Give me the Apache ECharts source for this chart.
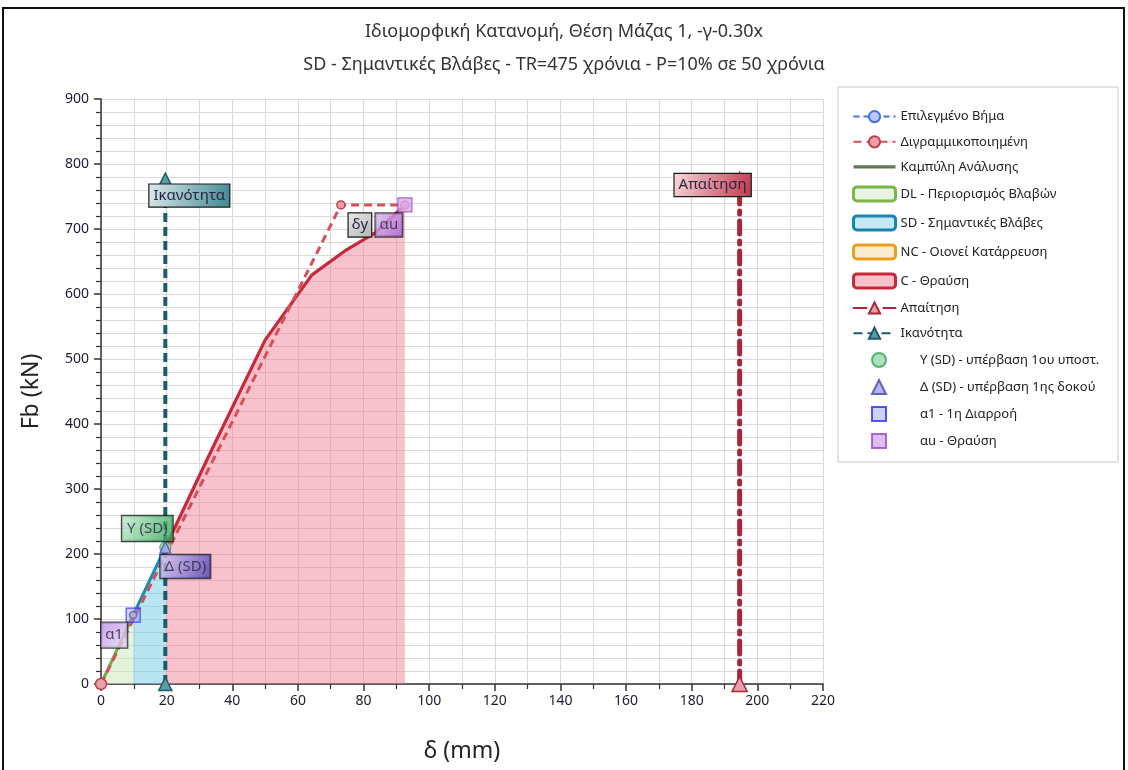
<!DOCTYPE html>
<html><head><meta charset="utf-8">
<script src="https://cdn.jsdelivr.net/npm/echarts@6/dist/echarts.min.js"></script>
<style>html,body{margin:0;padding:0;background:#fff}#c{width:1128px;height:770px}</style>
</head><body><div id="c"></div>
<script>
// ---------- data ----------
const titleLine1 = 'Ιδιομορφική Κατανομή, Θέση Μάζας 1, -γ-0.30x';
const titleLine2 = 'SD - Σημαντικές Βλάβες - TR=475 χρόνια - P=10% σε 50 χρόνια';
const xName = 'δ (mm)';
const yName = 'Fb (kN)';
const curveDL = [[0,0],[9.8,106]];
const curveSD = [[9.8,106],[19.6,210]];
const curveC  = [[19.6,210],[33.7,360],[50,529],[64.2,629],[74.8,668],[83.5,694],[92.6,737]];
const bilinear = [[0,0],[73.1,737],[92.6,737]];
const capacity = [[19.6,0],[19.6,776]];
const demand   = [[194.6,0],[194.6,780]];
const pointY = [[19.6,210]];
const pointDelta = [[19.6,210]];
const pointA1 = [[9.8,106]];
const pointAu = [[92.6,737]];
const stepPoints = [[9.8,106],[19.6,210]];
const names = ['Επιλεγμένο Βήμα','Διγραμμικοποιημένη','Καμπύλη Ανάλυσης','DL - Περιορισμός Βλαβών','SD - Σημαντικές Βλάβες','NC - Οιονεί Κατάρρευση','C - Θραύση','Απαίτηση','Ικανότητα'];
const pointNames = ['Y (SD) - υπέρβαση 1ου υποστ.','Δ (SD) - υπέρβαση 1ης δοκού','α1 - 1η Διαρροή','αu - Θραύση'];
const boxTexts = {cap:'Ικανότητα', dem:'Απαίτηση', y:'Y (SD)', d:'Δ (SD)', a1:'α1', dy:'δy', au:'αu'};

// ---------- style ----------
const F = '"Noto Sans", "DejaVu Sans", sans-serif';
function grad(c1,c2){return new echarts.graphic.LinearGradient(0,0,1,1,[{offset:0,color:c1},{offset:1,color:c2}]);}
function boxLabel(text,c1,c2,dx,dy,pad){
  return {show:true, position:'inside', offset:[dx,dy], formatter:text, fontSize:15, fontFamily:F,
    color:'#262640', padding:pad||[4,4,3,4], borderColor:'#1a1a1a', borderWidth:1.2, backgroundColor:grad(c1,c2)};
}

const chart = echarts.init(document.getElementById('c'), null, {renderer:'canvas'});
const option = {
  animation:false,
  backgroundColor:'#fff',
  textStyle:{fontFamily:F},
  title:{text:titleLine1+'\n'+titleLine2, left:'center', top:10,
    textStyle:{fontFamily:F, fontSize:18, fontWeight:'normal', color:'#333', lineHeight:33}},
  graphic:[
    {type:'rect', shape:{x:3,y:8,width:1121,height:790}, style:{fill:'none', stroke:'#111', lineWidth:2}, z:-10, silent:true},
    {type:'rect', shape:{x:838,y:87,width:280,height:375}, style:{fill:'#fff', stroke:'#c8c8c8', lineWidth:1}, z:-5, silent:true}
  ],
  grid:{left:101, right:305, top:99, bottom:86, containLabel:false},
  xAxis:{type:'value', min:0, max:220, interval:20, name:xName, nameLocation:'middle', nameGap:56,
    nameTextStyle:{fontSize:23, color:'#222', fontFamily:F},
    axisLine:{onZero:false, lineStyle:{color:'#333', width:1.5}},
    axisTick:{show:true, length:7, lineStyle:{color:'#333', width:1.5}},
    minorTick:{show:true, splitNumber:2, length:5, lineStyle:{color:'#333', width:1.2}},
    axisLabel:{fontSize:14, color:'#1c1c30', margin:10, fontFamily:F},
    splitLine:{show:true, lineStyle:{color:'#d9d9d9', width:1}},
    minorSplitLine:{show:true, lineStyle:{color:'#d9d9d9', width:1}}},
  yAxis:{type:'value', min:0, max:900, interval:100, name:yName, nameLocation:'middle', nameGap:58,
    nameTextStyle:{fontSize:23, color:'#222', fontFamily:F},
    axisLine:{show:true, onZero:false, lineStyle:{color:'#333', width:1.5}},
    axisTick:{show:true, length:7, lineStyle:{color:'#333', width:1.5}},
    minorTick:{show:true, splitNumber:5, length:5, lineStyle:{color:'#333', width:1.2}},
    axisLabel:{fontSize:14, color:'#1c1c30', margin:12, fontFamily:F},
    splitLine:{show:true, lineStyle:{color:'#d9d9d9', width:1}},
    minorSplitLine:{show:true, lineStyle:{color:'#d9d9d9', width:1}}},
  legend:[
    {orient:'vertical', left:847, top:105, itemWidth:42, itemHeight:14, itemGap:12,
     textStyle:{fontSize:13, color:'#222', fontFamily:F}, selectedMode:false,
     data:[
      {name:names[0]},
      {name:names[1]},
      {name:names[2], icon:'path://M0,0 L40,0 L40,3 L0,3 Z'},
      {name:names[3], icon:'roundRect', itemStyle:{color:'#e8f3e2', borderColor:'#7ab648', borderWidth:3}},
      {name:names[4], icon:'roundRect', itemStyle:{color:'#c4e8f4', borderColor:'#1a86ab', borderWidth:3}},
      {name:names[5], icon:'roundRect', itemStyle:{color:'#fbebcf', borderColor:'#e7a023', borderWidth:3}},
      {name:names[6], icon:'roundRect', itemStyle:{color:'#f6c3cb', borderColor:'#c8283c', borderWidth:3}},
      {name:names[7]},
      {name:names[8]}
     ]},
    {orient:'vertical', left:866, top:347, itemWidth:14, itemHeight:14, itemGap:11,
     textStyle:{fontSize:13, color:'#222', fontFamily:F, padding:[0,0,0,29]}, selectedMode:false,
     data:pointNames.map(n=>({name:n}))}
  ],
  series:[
    {name:names[3], type:'line', data:curveDL, symbol:'none', z:3,
     lineStyle:{color:'#6fb24a', width:3}, itemStyle:{color:'#6fb24a'},
     areaStyle:{color:'rgba(205,232,190,0.75)', origin:0}},
    {name:names[4], type:'line', data:curveSD, symbol:'none', z:3,
     lineStyle:{color:'#1b8cb3', width:3}, itemStyle:{color:'#1b8cb3'},
     areaStyle:{color:'rgba(120,205,230,0.75)', origin:0}},
    {name:names[5], type:'line', data:[], symbol:'none', z:3,
     lineStyle:{color:'#e7a023', width:3}, itemStyle:{color:'#e7a023'}},
    {name:names[6], type:'line', data:curveC, symbol:'none', z:3,
     lineStyle:{color:'#c8283c', width:3.2}, itemStyle:{color:'#c8283c'},
     areaStyle:{color:'rgba(238,118,138,0.64)', origin:0}},
    {name:names[2], type:'line', data:[], symbol:'none', lineStyle:{color:'#5e7a50', width:3}, itemStyle:{color:'#5e7a50'}},
    {name:names[0], type:'line', data:[], symbol:'circle', symbolSize:9,
     lineStyle:{color:'#4a6fe0', width:2.5, type:[6,4]}, itemStyle:{color:'#b8c8f8', borderColor:'#4a6fe0', borderWidth:1.5}},
    {name:names[8], type:'line', z:4, symbol:'triangle', symbolSize:13,
     data:capacity.map((p,i)=> i===capacity.length-1 ? {value:p, label:boxLabel(boxTexts.cap,'#dfecee','#3e8692',24,16)} : {value:p}),
     lineStyle:{color:'#1c5b69', width:4, type:[9,5]},
     itemStyle:{color:'#5c9aa4', borderColor:'#1c5b69', borderWidth:1.5}},
    {name:names[7], type:'line', z:4, symbol:'triangle', symbolSize:15,
     data:demand.map((p,i)=> i===demand.length-1 ? {value:p, symbolSize:9, label:boxLabel(boxTexts.dem,'#f8dade','#c23549',-27,8)} : {value:p}),
     lineStyle:{color:'#a82638', width:5, type:[13,7,3,7], cap:'round'},
     itemStyle:{color:'#e9a0aa', borderColor:'#a82638', borderWidth:1.5}},
    {name:names[1], type:'line', z:5, symbol:'circle', symbolSize:8,
     data:bilinear.map((p,i)=> i===0 ? {value:p, symbolSize:11} : (i===1 ? {value:p, label:boxLabel(boxTexts.dy,'#ececec','#b4b4b4',19,20,[4,3,4,3])} : {value:p})),
     lineStyle:{color:'#d4505a', width:3, type:[8,5]},
     itemStyle:{color:'#eaa0a6', borderColor:'#c0404a', borderWidth:1.5}},
    {name:'_steps', type:'scatter', z:6, data:stepPoints, symbol:'circle', symbolSize:7,
     itemStyle:{color:'#e8c0c8', borderColor:'#33304a', borderWidth:1.5}},
    {name:pointNames[0], type:'scatter', z:6, data:pointY, symbol:'circle', symbolSize:11,
     itemStyle:{color:'#9adbaa', borderColor:'#3a9e58', borderWidth:1.2},
     label:boxLabel(boxTexts.y,'#c4ecd0','#2ea050',-18,-19,[5,5,5,5])},
    {name:pointNames[1], type:'scatter', z:7, data:pointDelta, symbol:'triangle', symbolSize:11,
     itemStyle:{color:'#a3a3ea', borderColor:'#4444b4', borderWidth:1.2},
     label:boxLabel(boxTexts.d,'#d4cff4','#4a3cb4',20,19,[4,4,4,4])},
    {name:pointNames[2], type:'scatter', z:7, data:pointA1, symbol:'rect', symbolSize:14,
     itemStyle:{color:'rgba(150,150,255,0.55)', borderColor:'#2a2aff', borderWidth:1.2},
     label:boxLabel(boxTexts.a1,'#b88ae0','#eadcf8',-19,20,[5,4,5,4])},
    {name:pointNames[3], type:'scatter', z:7, data:pointAu, symbol:'rect', symbolSize:14,
     itemStyle:{color:'#d6acef', borderColor:'#9a44c8', borderWidth:1.2},
     label:boxLabel(boxTexts.au,'#dcc0f0','#a45ad4',-16,20,[4,4,4,4])}
  ]
};
chart.setOption(option);
</script></body></html>
